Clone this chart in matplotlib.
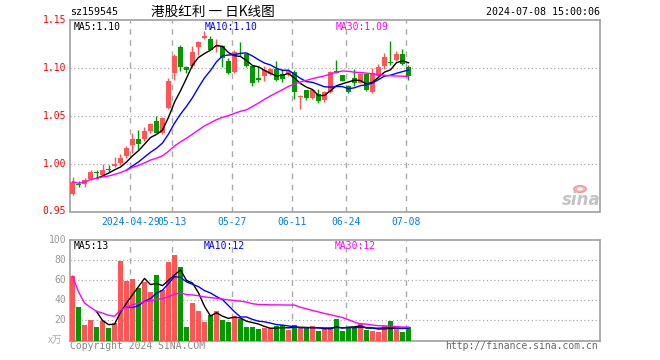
import pandas as pd
import matplotlib.pyplot as plt

# Данные: дневные свечи 港股红利 (sz159545), 2024-04-15 .. 2024-07-08
opens = [0.968, 0.979, 0.9785, 0.9837, 0.9913, 0.9878, 0.9941, 0.9976, 1.0003, 1.008,
         1.019, 1.0253, 1.0253, 1.034, 1.0441, 1.0323, 1.0583, 1.0948, 1.1215, 1.1007,
         1.1017, 1.1219, 1.1313, 1.1302, 1.1215, 1.1233, 1.1069, 1.0955, 1.1156, 1.1149,
         1.1017, 1.0889, 1.0913, 1.0941, 1.0990, 1.0938, 1.0931, 1.0962, 1.0694, 1.0764,
         1.0681, 1.0722, 1.0663, 1.0747, 1.0965, 1.0924, 1.0809, 1.0896, 1.0844, 1.0931,
         1.0747, 1.0913, 1.1017, 1.1056, 1.1087, 1.1146, 1.1010]
highs = [0.986, 0.982, 0.9854, 0.993, 0.9934, 1.000, 0.999, 1.007, 1.0097, 1.018,
         1.0316, 1.035, 1.0387, 1.0427, 1.050, 1.049, 1.0896, 1.1149, 1.1236, 1.1017,
         1.1233, 1.1278, 1.1382, 1.133, 1.130, 1.124, 1.1104, 1.1191, 1.1267, 1.1156,
         1.102, 1.1017, 1.1024, 1.100, 1.1076, 1.0993, 1.0983, 1.0976, 1.0719, 1.0771,
         1.077, 1.0781, 1.0757, 1.0965, 1.108, 1.093, 1.0816, 1.0993, 1.0941, 1.0948,
         1.100, 1.1042, 1.1156, 1.1285, 1.1174, 1.1198, 1.1035]
lows = [0.967, 0.976, 0.976, 0.983, 0.984, 0.9866, 0.991, 0.996, 0.999, 1.0063,
        1.0108, 1.015, 1.024, 1.0316, 1.0316, 1.0313, 1.0566, 1.0878, 1.0965, 1.0948,
        1.100, 1.113, 1.130, 1.1184, 1.117, 1.101, 1.094, 1.0948, 1.112, 1.1010,
        1.0809, 1.0851, 1.0861, 1.093, 1.0861, 1.0854, 1.0913, 1.0677, 1.0566, 1.066,
        1.067, 1.0628, 1.0646, 1.074, 1.0945, 1.086, 1.074, 1.0809, 1.084, 1.0757,
        1.0733, 1.0896, 1.099, 1.1035, 1.1076, 1.1035, 1.0872]
closes = [0.981, 0.978, 0.983, 0.9913, 0.990, 0.993, 0.993, 1.000, 1.0063, 1.016,
          1.0253, 1.020, 1.0337, 1.0413, 1.0323, 1.0476, 1.0868, 1.1128, 1.101, 1.0976,
          1.1163, 1.1267, 1.1330, 1.119, 1.1225, 1.1104, 1.0948, 1.1170, 1.1146, 1.1017,
          1.0844, 1.0878, 1.0983, 1.0990, 1.0878, 1.0889, 1.0965, 1.0747, 1.0705, 1.0688,
          1.0764, 1.0653, 1.0747, 1.0955, 1.0948, 1.0868, 1.0747, 1.0844, 1.0931, 1.0774,
          1.0948, 1.1010, 1.1115, 1.1049, 1.1149, 1.1042, 1.0913]
# объём, x万
volumes = [64, 33, 15, 20, 13, 19, 12, 17, 79, 59,
           61, 52, 58, 48, 65, 50, 78, 85, 73, 13,
           37, 29, 18, 25, 29, 20, 18, 24, 21, 13,
           13, 11, 12, 12, 14, 15, 10, 15, 12, 13,
           14, 9, 11, 12, 21, 9, 13, 13, 17, 10,
           9, 8, 14, 19, 11, 8, 13]

tick_idx = [10, 17, 27, 37, 46, 56]
tick_labels = ['2024-04-29', '05-13', '05-27', '06-11', '06-24', '07-08']
price_ticks = [0.95, 1.00, 1.05, 1.10, 1.15]
vol_ticks = [20, 40, 60, 80, 100]

df = pd.DataFrame({'o': opens, 'h': highs, 'l': lows, 'c': closes, 'v': volumes})
df['ma5'] = df['c'].rolling(5).mean()
df['ma10'] = df['c'].rolling(10).mean()
df['ma30'] = df['c'].rolling(30, min_periods=1).mean()
df['vma5'] = df['v'].rolling(5).mean()
df['vma10'] = df['v'].rolling(10).mean()
df['vma30'] = df['v'].rolling(30, min_periods=1).mean()

RED = '#ff5555'
GREEN = '#009900'
GRID = '#aaaaaa'
FRAME = '#a0a0a0'
MONO = 'DejaVu Sans Mono'
W, H = 660, 360

fig = plt.figure(figsize=(6.6, 3.6), dpi=100)


def rect(x0, y0, x1, y1):
    # пиксели -> доли фигуры
    return [x0 / W, 1 - y1 / H, (x1 - x0) / W, (y1 - y0) / H]


def ftext(x, y, s, **kw):
    fig.text(x / W, 1 - y / H, s, **kw)


ax = fig.add_axes(rect(70, 20, 600, 211.5))
axv = fig.add_axes(rect(70, 240, 600, 340.5))

x = df.index.values
up = df['c'] >= df['o']
colors = [RED if u else GREEN for u in up]

# свечи
ax.vlines(x, df['l'], df['h'], colors=colors, linewidth=1, zorder=3)
body = (df['c'] - df['o']).abs().clip(lower=0.0012)
ax.bar(x, body, bottom=df[['o', 'c']].min(axis=1), width=0.82, color=colors, linewidth=0, zorder=3)
ax.plot(x, df['ma5'], color='black', lw=1, zorder=4)
ax.plot(x, df['ma10'], color='#0000ff', lw=1, zorder=4)
ax.plot(x, df['ma30'], color='#ff00ff', lw=1, zorder=4)

# объём
axv.bar(x, df['v'], width=0.82, color=colors, linewidth=0, zorder=3)
axv.plot(x, df['vma5'], color='black', lw=1, zorder=4)
axv.plot(x, df['vma10'], color='#0000ff', lw=1, zorder=4)
axv.plot(x, df['vma30'], color='#ff00ff', lw=1, zorder=4)

xlim = (-0.417, 87.92)
for a, lo, hi, hlines in [(ax, 0.95, 1.15, price_ticks[1:-1]), (axv, 0, 100, vol_ticks[:-1])]:
    a.set_xlim(*xlim)
    a.set_ylim(lo, hi)
    a.set_xticks([])
    a.set_yticks([])
    for s in a.spines.values():
        s.set_color(FRAME)
        s.set_linewidth(1.2)
    for yv in hlines:
        a.axhline(yv, color=GRID, lw=0.9, ls=(0, (1, 2)), zorder=1)
    for t in tick_idx:
        a.axvline(t - 0.35, color=GRID, lw=1, ls=(0, (4, 4)), zorder=1)

# подписи осей
for p in price_ticks:
    yp = 211.5 - (p - 0.95) / 0.2 * 191.5
    ftext(66, yp, f'{p:.2f}', color='red', fontsize=7, family=MONO, ha='right', va='center')
for v in vol_ticks:
    yp = 340.5 - v / 100 * 100.5
    ftext(66, yp, str(v), color='#999999', fontsize=7, family=MONO, ha='right', va='center')
ftext(62, 340, 'x万', color='#aaaaaa', fontsize=7, family=['Noto Sans CJK SC', 'DejaVu Sans'],
      ha='right', va='center')

for t, lab in zip(tick_idx, tick_labels):
    xp = 72.5 + 6 * (t - 0.35)
    ftext(xp, 222, lab, color='#0080e0', fontsize=7, family=MONO, ha='center', va='center')

# заголовок
ftext(70, 12, 'sz159545', color='black', fontsize=7.2, family=MONO, va='center')
ftext(151, 12, '港股红利 一 日K线图', color='black', fontsize=9.8,
      family=['Noto Sans CJK SC', 'DejaVu Sans'], va='center')
ftext(600, 12, '2024-07-08 15:00:06', color='black', fontsize=7.2, family=MONO, ha='right', va='center')

# легенды MA
ftext(74, 27, 'MA5:1.10', color='black', fontsize=7, family=MONO, va='center')
ftext(205, 27, 'MA10:1.10', color='#0000ff', fontsize=7, family=MONO, va='center')
ftext(336, 27, 'MA30:1.09', color='#ff00ff', fontsize=7, family=MONO, va='center')
ftext(74, 246, 'MA5:13', color='black', fontsize=7, family=MONO, va='center')
ftext(204, 246, 'MA10:12', color='#0000ff', fontsize=7, family=MONO, va='center')
ftext(335, 246, 'MA30:12', color='#ff00ff', fontsize=7, family=MONO, va='center')

# нижние подписи
ftext(70, 346, 'Copyright 2024 SINA.COM', color='#888888', fontsize=7, family=MONO, va='center')
ftext(598, 346, 'http://finance.sina.com.cn', color='#666666', fontsize=7, family=MONO,
      ha='right', va='center')

# водяной знак sina
fig.patches.append(plt.Circle((580 / W, 1 - 189 / H), 0.0095, transform=fig.transFigure,
                              facecolor='#f6b4b4', edgecolor='#ee9090', linewidth=0.8))
fig.patches.append(plt.Circle((580 / W, 1 - 189 / H), 0.0042, transform=fig.transFigure,
                              facecolor='white', edgecolor='none'))
ftext(581, 200, 'sina', color='#c4c4c4', fontsize=12, fontstyle='italic', fontweight='bold',
      ha='center', va='center')

plt.savefig('out.png', dpi=100)
